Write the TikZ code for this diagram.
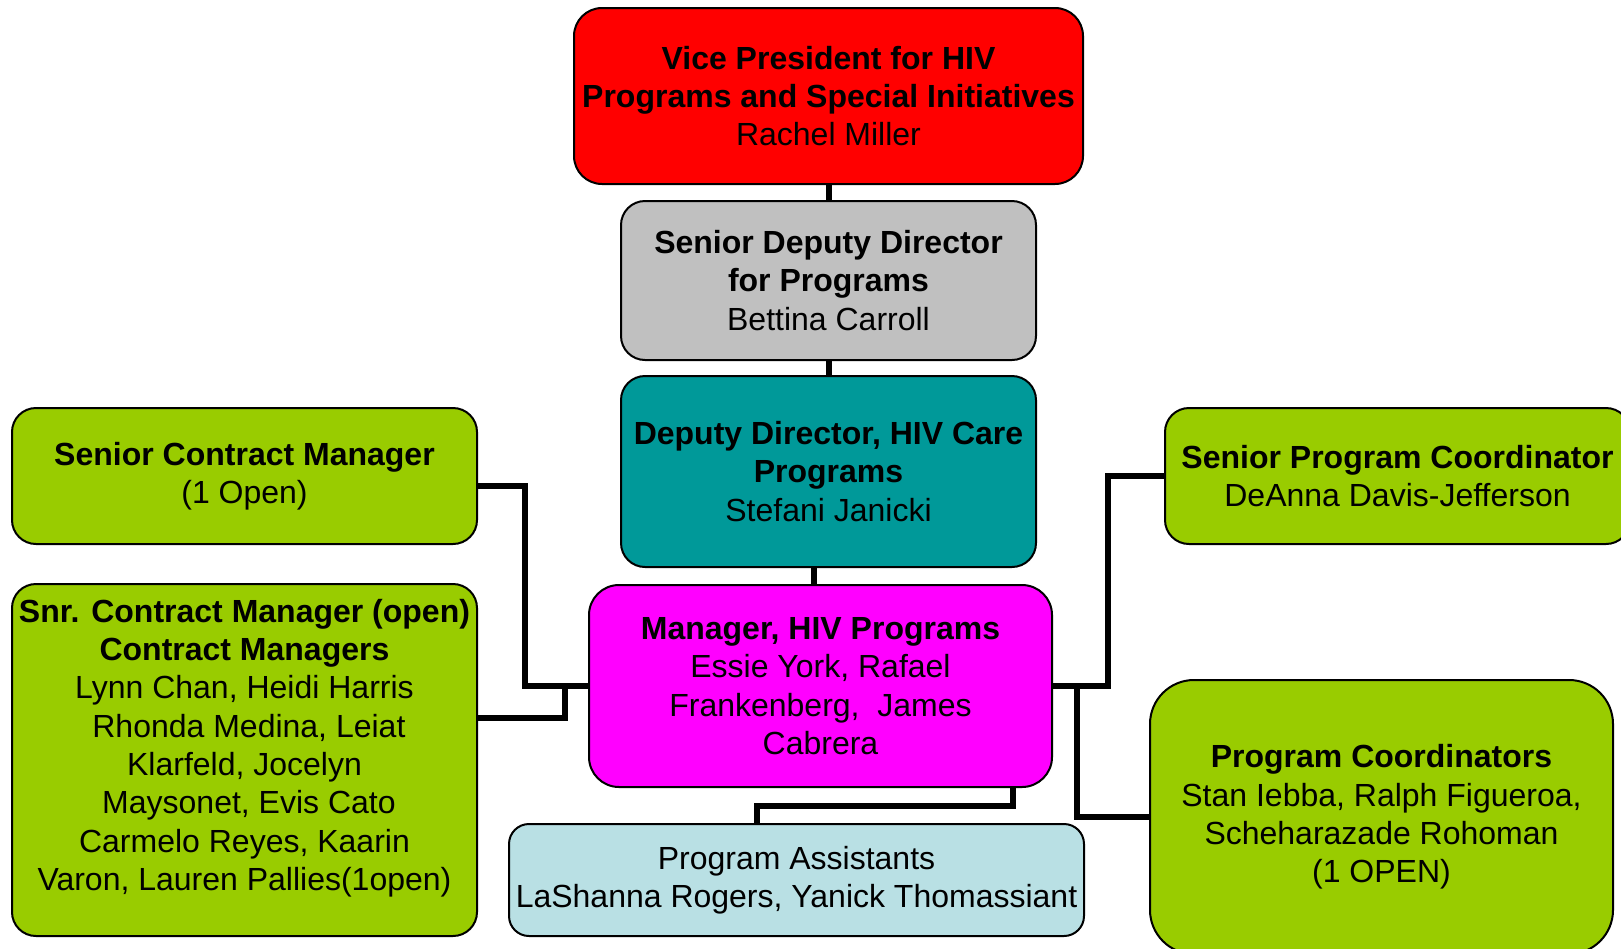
\documentclass[tikz,border=0pt]{standalone}
\usepackage{fontspec}
\setmainfont{Liberation Sans}
\definecolor{vpred}{RGB}{255,0,0}
\definecolor{sddgray}{RGB}{192,192,192}
\definecolor{ddteal}{RGB}{0,153,153}
\definecolor{mgrmag}{RGB}{255,0,255}
\definecolor{pablue}{RGB}{185,224,228}
\definecolor{boxgreen}{RGB}{153,204,0}
\tikzset{
  orgbox/.style={draw=black, line width=2pt, rounded corners=24pt, align=center, inner sep=0pt,
    font=\fontsize{32}{38.3}\selectfont},
  txt/.style={align=center, inner sep=0pt, font=\fontsize{32}{38.3}\selectfont},
  conn/.style={draw=black, line width=6pt}
}
\begin{document}
\begin{tikzpicture}[x=1pt,y=-1pt]
\useasboundingbox (0,0) rectangle (1621,948);
% connectors (drawn first, boxes overlay their ends)
\coordinate (jm) at (814,576);
\coordinate (l1) at (525,486);
\coordinate (l2) at (565,718);
\coordinate (r1) at (1108,476);
\coordinate (r2) at (1077,817);
\coordinate (b1) at (1013,806);
\coordinate (b2) at (757,806);
\node[orgbox, fill=vpred, minimum width=509pt, minimum height=176pt, rounded corners=28pt] (vp) at (828.5,96)
  {\textbf{Vice President for HIV}\\\textbf{Programs and Special Initiatives}\\Rachel Miller};
\node[orgbox, fill=sddgray, minimum width=415pt, minimum height=159pt] (sdd) at (828.5,280.5)
  {\textbf{Senior Deputy Director}\\\textbf{for Programs}\\Bettina Carroll};
\node[orgbox, fill=ddteal, minimum width=415pt, minimum height=191pt] (dd) at (828.5,471.5)
  {\textbf{Deputy Director, HIV Care}\\\textbf{Programs}\\Stefani Janicki};
\node[orgbox, fill=mgrmag, minimum width=463pt, minimum height=202pt, rounded corners=30pt] (mgr) at (820.5,686)
  {\textbf{Manager, HIV Programs}\\Essie York, Rafael\\Frankenberg,\ \ James\\Cabrera};
\node[orgbox, fill=pablue, minimum width=575pt, minimum height=112pt, rounded corners=20pt] (pa) at (796.5,880)
  {Program Assistants\\LaShanna Rogers, Yanick Thomassiant};
\node[orgbox, fill=boxgreen, minimum width=465pt, minimum height=136pt] (scm) at (244.5,476)
  {\textbf{Senior Contract Manager}\\(1 Open)};
\node[orgbox, fill=boxgreen, minimum width=465pt, minimum height=352pt] (snrcm) at (244.5,760) {};
\node[txt] (snrcmtxt) at (244.5,748)
  {\textbf{Snr. Contract Manager (open)}\\\textbf{Contract Managers}\\Lynn Chan, Heidi Harris\\\ Rhonda Medina, Leiat\\Klarfeld, Jocelyn\\\ Maysonet, Evis Cato\\Carmelo Reyes, Kaarin\\Varon, Lauren Pallies(1open)};
\node[orgbox, fill=boxgreen, minimum width=465pt, minimum height=136pt] (spc) at (1397.5,476)
  {\textbf{Senior Program Coordinator}\\DeAnna Davis-Jefferson};
\node[orgbox, fill=boxgreen, minimum width=463pt, minimum height=274pt, rounded corners=44pt] (pc) at (1381.5,817)
  {\textbf{Program Coordinators}\\Stan Iebba, Ralph Figueroa,\\Scheharazade Rohoman\\(1 OPEN)};
\draw[conn] (vp.south) -- (sdd.north);
\draw[conn] (sdd.south) -- (dd.north);
\draw[conn] (dd.south -| jm) -- (mgr.north -| jm);
\draw[conn] (scm.east |- l1) -- (l1) -- (l1 |- mgr.west) -- (mgr.west);
\draw[conn] (snrcm.east |- l2) -- (l2) -- (l2 |- mgr.west);
\draw[conn] (mgr.east) -| (r1) -- (spc.west);
\draw[conn] (r2 |- mgr.east) -- (r2) -- (pc.west |- r2);
\draw[conn] (mgr.south -| b1) -- (b1) -- (b2) -- (pa.north -| b2);
\end{tikzpicture}
\end{document}
